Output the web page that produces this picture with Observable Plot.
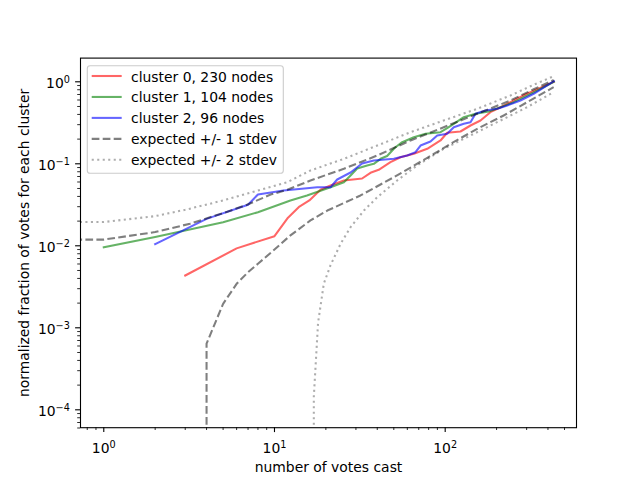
<!DOCTYPE html>
<html>
<head>
<meta charset="utf-8">
<script src="https://cdn.jsdelivr.net/npm/d3@7"></script>
<script src="https://cdn.jsdelivr.net/npm/@observablehq/plot@0.6"></script>
<style>
  body { margin: 0; background: #fff; }
  #chart { width: 640px; height: 480px; }
</style>
</head>
<body>
<div id="chart"></div>
<script>
// ---- data (number of votes cast, normalized fraction) ----
const cluster0 = [
  [3, 0.00434], [6, 0.0093], [10, 0.0131], [12, 0.022], [14, 0.0301], [16, 0.0357],
  [18.6, 0.0482], [21.3, 0.0544], [25.5, 0.0626], [32.6, 0.0662], [36.5, 0.0777],
  [40.8, 0.0845], [47.8, 0.1046], [54.7, 0.1203], [65.5, 0.1324], [78.5, 0.1524],
  [93.9, 0.1924], [102.7, 0.2388], [122.9, 0.2477], [140.7, 0.2931], [161, 0.3374],
  [184, 0.426], [211, 0.49], [295, 0.70], [433, 1.0]
];
const cluster1 = [
  [1, 0.0096], [2, 0.0128], [5, 0.0194], [8, 0.0257], [12.4, 0.0357], [15.5, 0.0411],
  [21.3, 0.0518], [25.5, 0.0597], [27.9, 0.072], [30.5, 0.0877], [34.9, 0.0954],
  [38.2, 0.1], [41.8, 0.115], [45.7, 0.1245], [50.5, 0.156], [56, 0.1834], [65.5, 0.211],
  [76.7, 0.232], [93.9, 0.2428], [102.7, 0.2717], [112.3, 0.3075], [128.5, 0.37],
  [150.5, 0.407], [180, 0.434], [211, 0.49], [252, 0.564], [329, 0.74], [433, 1.0]
];
const cluster2 = [
  [2, 0.0105], [4, 0.0213], [7, 0.0316], [8, 0.0422], [11.3, 0.0472], [17.8, 0.0518],
  [21.3, 0.0518], [23.3, 0.0644], [27.9, 0.0783], [32.6, 0.1008], [38.2, 0.1097],
  [50, 0.115], [59.9, 0.1263], [67, 0.1385], [71.7, 0.167], [82, 0.187], [89.8, 0.2214],
  [102.7, 0.232], [112.3, 0.2795], [128.5, 0.3075], [140.7, 0.3216], [150.5, 0.407],
  [172, 0.4467], [202, 0.4686], [231, 0.514], [276, 0.5915], [330, 0.714], [433, 1.02]
];
const expectedUpper1 = [
  [0.5, 0.0119], [1, 0.0119], [2, 0.0147], [3.2, 0.0186], [5, 0.025], [6.9, 0.0316],
  [9.5, 0.0422], [11.9, 0.0482], [16.25, 0.0626], [25.5, 0.0869], [40, 0.1263],
  [62.6, 0.1924], [98, 0.279], [154, 0.407], [241, 0.5915], [330, 0.81], [432, 1.05]
];
const expectedLower1 = [
  [4, 1e-7], [4, 0.00064], [5, 0.00196], [6, 0.00344], [7, 0.00476], [8, 0.00603],
  [10, 0.009], [12.4, 0.0134], [16.25, 0.0204], [20.4, 0.0269], [31.9, 0.0411],
  [50, 0.0686], [78.5, 0.118], [107.4, 0.175], [154, 0.267], [220, 0.388],
  [302, 0.564], [432, 0.86]
];
const expectedUpper2 = [
  [0.5, 0.0195], [1, 0.0195], [2, 0.023], [3, 0.0275], [5, 0.0357], [8, 0.0472],
  [11.9, 0.0597], [16.25, 0.0829], [25.5, 0.115], [40, 0.167], [62.6, 0.2428],
  [98, 0.3374], [154, 0.4686], [241, 0.68], [330, 0.92], [432, 1.17]
];
const expectedLower2 = [
  [17, 1e-7], [17, 0.000146], [18, 0.00115], [19.45, 0.00345], [21.3, 0.0058],
  [24.4, 0.01058], [27.9, 0.01686], [33.4, 0.0269], [40, 0.0391], [52.3, 0.0626],
  [68.5, 0.0954], [98.1, 0.1524], [140.7, 0.2214], [201.6, 0.3216], [302, 0.49],
  [432, 0.75]
];

const xMajorTicks = [1, 10, 100];
const xMinorTicks = [0.8, 0.9, 2, 3, 4, 5, 6, 7, 8, 9, 20, 30, 40, 50, 60, 70, 80, 90, 200, 300, 400, 500];
const yMajorTicks = [1e-4, 1e-3, 1e-2, 1e-1, 1];
const yMinorTicks = [
  6e-5, 7e-5, 8e-5, 9e-5,
  2e-4, 3e-4, 4e-4, 5e-4, 6e-4, 7e-4, 8e-4, 9e-4,
  2e-3, 3e-3, 4e-3, 5e-3, 6e-3, 7e-3, 8e-3, 9e-3,
  2e-2, 3e-2, 4e-2, 5e-2, 6e-2, 7e-2, 8e-2, 9e-2,
  0.2, 0.3, 0.4, 0.5, 0.6, 0.7, 0.8, 0.9
];
const legendLabels = [
  "cluster 0, 230 nodes",
  "cluster 1, 104 nodes",
  "cluster 2, 96 nodes",
  "expected +/- 1 stdev",
  "expected +/- 2 stdev"
];
const xLabel = "number of votes cast";
const yLabel = "normalized fraction of votes for each cluster";

// ---- styles ----
const DASH = "7.7,3.3";
const DOT = "2.1,3.4";
const series = [
  {data: cluster0, stroke: "#ff0000", opacity: 0.6, dash: null, legend: 0},
  {data: cluster1, stroke: "#008000", opacity: 0.6, dash: null, legend: 1},
  {data: cluster2, stroke: "#0000ff", opacity: 0.6, dash: null, legend: 2},
  {data: expectedUpper1, stroke: "#000000", opacity: 0.5, dash: DASH, legend: 3},
  {data: expectedLower1, stroke: "#000000", opacity: 0.5, dash: DASH, legend: null},
  {data: expectedUpper2, stroke: "#000000", opacity: 0.32, dash: DOT, legend: 4},
  {data: expectedLower2, stroke: "#000000", opacity: 0.32, dash: DOT, legend: null}
];

const rows = (arr) => arr.map(([n, f]) => ({n, f}));
const pow10 = (v) => "10^" + String(Math.round(Math.log10(v))).replace("-", "\u2212");

const FS = 13.9;

const plot = Plot.plot({
  width: 640,
  height: 480,
  marginLeft: 80,
  marginRight: 64,
  marginTop: 57.6,
  marginBottom: 52.8,
  style: {fontFamily: "DejaVu Sans", fontSize: FS + "px", background: "white", color: "black", overflow: "visible"},
  x: {type: "log", domain: [0.7305, 587.8], label: null},
  y: {type: "log", domain: [6.05e-5, 1.945], label: null},
  marks: [
    ...series.map(s => Plot.line(rows(s.data), {
      x: "n", y: "f",
      stroke: s.stroke, strokeOpacity: s.opacity, strokeWidth: 2.08,
      strokeDasharray: s.dash || undefined,
      strokeLinecap: s.dash ? "butt" : "square",
      strokeLinejoin: "round",
      clip: true
    })),
    Plot.frame({stroke: "black", strokeWidth: 1.1}),
    Plot.axisX(xMinorTicks, {tickSize: 2.8, strokeWidth: 0.83, tickFormat: () => "", label: null}),
    Plot.axisX(xMajorTicks, {tickSize: 4.9, strokeWidth: 1.1, tickFormat: () => "", label: null}),
    Plot.axisY(yMinorTicks, {tickSize: 2.8, strokeWidth: 0.83, tickFormat: () => "", label: null}),
    Plot.axisY(yMajorTicks, {tickSize: 4.9, strokeWidth: 1.1, tickFormat: () => "", label: null}),
    Plot.text(xMajorTicks, {x: d => d, text: d => pow10(d), frameAnchor: "bottom", lineAnchor: "top", textAnchor: "middle", dy: 15.2, fontSize: FS}),
    Plot.text(yMajorTicks, {y: d => d, text: d => pow10(d), frameAnchor: "left", lineAnchor: "middle", textAnchor: "end", dx: -10.6, dy: 1.85, fontSize: FS}),
    Plot.text([xLabel], {frameAnchor: "bottom", lineAnchor: "middle", textAnchor: "middle", dy: 39.8, fontSize: FS}),
    Plot.text([yLabel], {frameAnchor: "left", lineAnchor: "middle", textAnchor: "middle", dx: -56, rotate: -90, fontSize: FS})
  ]
});

// superscript exponents for the tick labels
d3.select(plot).selectAll("text").each(function () {
  const m = /^10\^(.+)$/.exec(this.textContent);
  if (!m) return;
  const t = d3.select(this);
  t.text(null);
  t.append("tspan").text("10");
  t.append("tspan").attr("dy", -5).attr("font-size", 9.7).text(m[1]);
});

// legend (upper left, matplotlib style)
const svg = d3.select(plot);
const lg = svg.append("g")
  .attr("font-family", "DejaVu Sans")
  .attr("font-size", FS)
  .attr("text-anchor", "start");
lg.append("rect")
  .attr("x", 87.3).attr("y", 65.7).attr("width", 196).attr("height", 107.6).attr("rx", 2.8)
  .attr("fill", "white").attr("fill-opacity", 0.8)
  .attr("stroke", "#cccccc").attr("stroke-width", 1.1);
series.filter(s => s.legend !== null).forEach(s => {
  const i = s.legend;
  const cy = 76 + 20.95 * i;
  lg.append("line")
    .attr("x1", 91.7).attr("x2", 121.7).attr("y1", cy).attr("y2", cy)
    .attr("stroke", s.stroke).attr("stroke-opacity", s.opacity).attr("stroke-width", 2.08)
    .attr("stroke-dasharray", s.dash).attr("stroke-linecap", "butt");
  lg.append("text")
    .attr("x", 131).attr("y", cy + 5.5)
    .attr("fill", "black")
    .attr("text-anchor", "start")
    .style("text-anchor", "start")
    .text(legendLabels[i]);
});

document.getElementById("chart").appendChild(plot);
</script>
</body>
</html>
